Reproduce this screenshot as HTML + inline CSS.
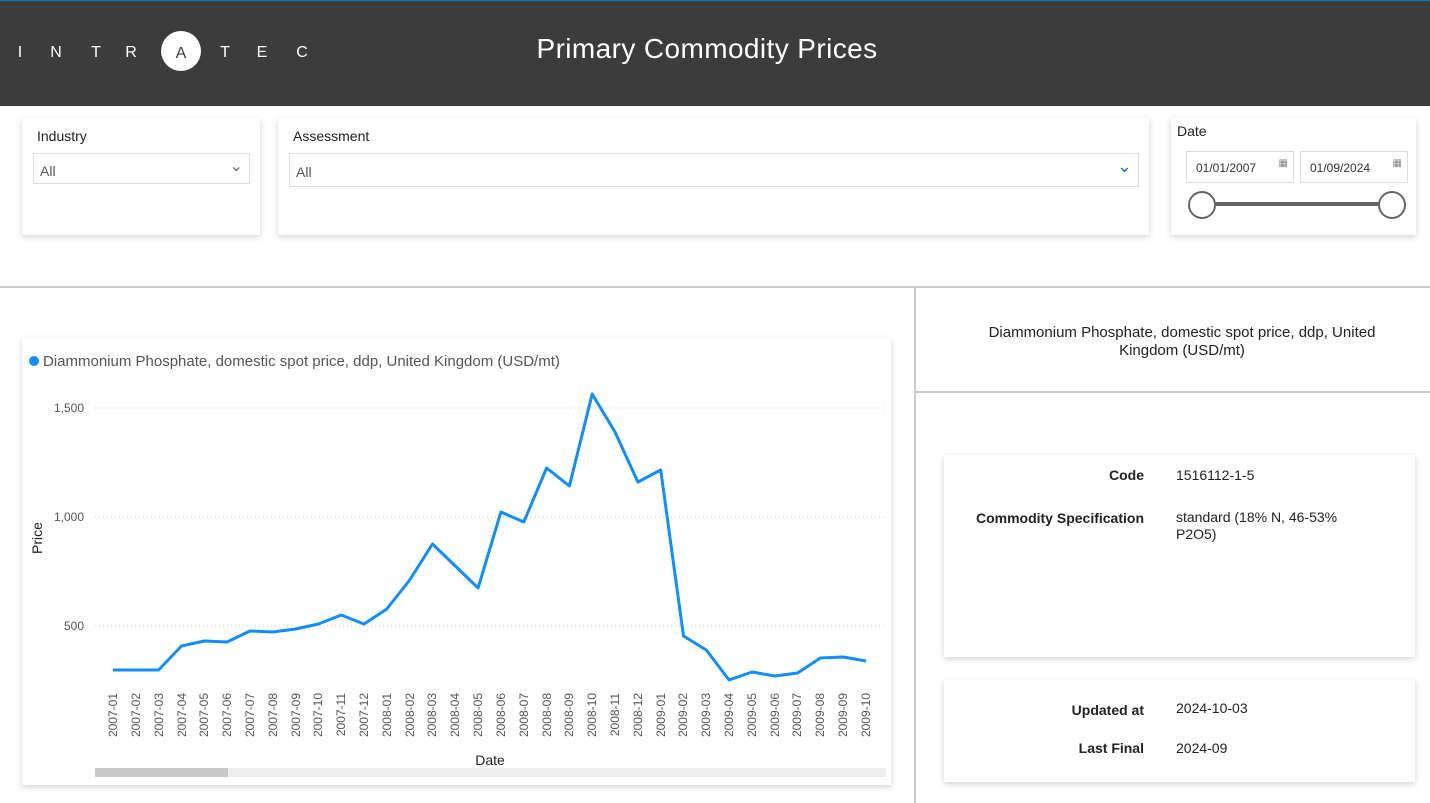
<!DOCTYPE html>
<html><head><meta charset="utf-8"><style>
body{margin:0;width:1430px;height:803px;overflow:hidden;background:#fff;font-family:"Liberation Sans","DejaVu Sans",sans-serif;position:relative}
.a{position:absolute}
.card{position:absolute;background:#fff;box-shadow:0 2px 6px rgba(0,0,0,0.18)}
.lbl{font-size:14px;color:#222}
.box{position:absolute;border:1px solid #ddd;background:#fff;font-size:14px;color:#555}
</style></head><body>
<div class="a" style="left:0;top:0;width:1430px;height:105px;background:#3c3c3c;border-top:1px solid #1a6fc4"></div>
<div class="a" style="left:0;top:0;width:1430px;height:105px;">
<svg width="1430" height="105">
<g fill="#fff" font-family="Liberation Sans, sans-serif" font-size="16" text-anchor="middle">
<text x="20" y="57">I</text><text x="56" y="57">N</text><text x="96" y="57">T</text><text x="131" y="57">R</text>
<circle cx="181" cy="51" r="20" fill="#fff"/><text x="181" y="58" fill="#3c3c3c">A</text>
<text x="225" y="57">T</text><text x="262" y="57">E</text><text x="302" y="57">C</text>
</g>
<text x="707" y="58" fill="#fff" font-size="28" letter-spacing="0.4" text-anchor="middle" font-family="Liberation Sans, sans-serif">Primary Commodity Prices</text>
</svg></div>

<div class="card" style="left:22px;top:118px;width:238px;height:117px"></div>
<div class="a lbl" style="left:37px;top:128px">Industry</div>
<div class="box" style="left:33px;top:153px;width:215px;height:29px"><span style="position:absolute;left:6px;top:9px">All</span><span style="position:absolute;right:6px;top:2px;color:#666;font-size:16px">&#8964;</span></div>
<div class="card" style="left:278px;top:118px;width:871px;height:117px"></div>
<div class="a lbl" style="left:293px;top:128px">Assessment</div>
<div class="box" style="left:289px;top:153px;width:848px;height:32px"><span style="position:absolute;left:6px;top:10px">All</span><span style="position:absolute;right:6px;top:2px;color:#1a6fc4;font-size:18px">&#8964;</span></div>
<div class="card" style="left:1171px;top:118px;width:245px;height:117px"></div>
<div class="a lbl" style="left:1177px;top:123px">Date</div>
<div class="box" style="left:1186px;top:151px;width:106px;height:30px;font-size:12px;color:#333"><span style="position:absolute;left:9px;top:9px">01/01/2007</span><span style="position:absolute;right:5px;top:6px;font-size:10px;color:#888">▦</span></div>
<div class="box" style="left:1300px;top:151px;width:106px;height:30px;font-size:12px;color:#333"><span style="position:absolute;left:9px;top:9px">01/09/2024</span><span style="position:absolute;right:5px;top:6px;font-size:10px;color:#888">▦</span></div>
<div class="a" style="left:1200px;top:202px;width:195px;height:4px;background:#666"></div>
<div class="a" style="left:1188px;top:191px;width:24px;height:24px;border:2px solid #666;border-radius:50%;background:#fff"></div>
<div class="a" style="left:1378px;top:191px;width:24px;height:24px;border:2px solid #666;border-radius:50%;background:#fff"></div>

<div class="a" style="left:0;top:286px;width:1430px;height:2px;background:#ccc"></div>
<div class="a" style="left:914px;top:286px;width:2px;height:517px;background:#ccc"></div>
<div class="a" style="left:916px;top:391px;width:514px;height:2px;background:#ccc"></div>
<div class="a" style="left:916px;top:324px;width:532px;text-align:center;font-size:15px;color:#222;line-height:18px">Diammonium Phosphate, domestic spot price, ddp, United<br>Kingdom (USD/mt)</div>

<div class="card" style="left:944px;top:455px;width:471px;height:202px"></div>
<div class="a" style="left:944px;top:467px;width:200px;text-align:right;font-size:14px;font-weight:bold;color:#222">Code</div>
<div class="a" style="left:1176px;top:467px;font-size:14px;color:#222">1516112-1-5</div>
<div class="a" style="left:944px;top:510px;width:200px;text-align:right;font-size:14px;font-weight:bold;color:#222">Commodity Specification</div>
<div class="a" style="left:1176px;top:509px;width:200px;font-size:14px;color:#222;line-height:17px">standard (18% N, 46-53% P2O5)</div>
<div class="card" style="left:944px;top:680px;width:471px;height:102px"></div>
<div class="a" style="left:944px;top:702px;width:200px;text-align:right;font-size:14px;font-weight:bold;color:#222">Updated at</div>
<div class="a" style="left:1176px;top:700px;font-size:14px;color:#222">2024-10-03</div>
<div class="a" style="left:944px;top:740px;width:200px;text-align:right;font-size:14px;font-weight:bold;color:#222">Last Final</div>
<div class="a" style="left:1176px;top:740px;font-size:14px;color:#222">2024-09</div>

<div class="card" style="left:22px;top:338px;width:869px;height:447px"></div>
<svg class="a" style="left:0;top:0" width="1430" height="803" font-family="Liberation Sans, sans-serif">
<circle cx="34" cy="361" r="5" fill="#118dff"/>
<text x="43" y="366" font-size="15" fill="#555">Diammonium Phosphate, domestic spot price, ddp, United Kingdom (USD/mt)</text>
<g stroke="#ccc" stroke-dasharray="1,3"><line x1="95" x2="886" y1="408" y2="408"/><line x1="95" x2="886" y1="517" y2="517"/><line x1="95" x2="886" y1="626" y2="626"/></g>
<g font-size="12" fill="#555" text-anchor="end"><text x="84" y="412">1,500</text><text x="84" y="521">1,000</text><text x="84" y="630">500</text></g>
<text transform="translate(42,538) rotate(-90)" font-size="14" fill="#222" text-anchor="middle">Price</text>
<text x="490" y="765" font-size="14" fill="#222" text-anchor="middle">Date</text>
<polyline fill="none" stroke="#118dff" stroke-width="3" stroke-linejoin="round" points="113,670 135.8,670 158.6,670 181.5,646 204.3,641 227.1,642 249.9,631 272.7,632 295.6,629 318.4,624 341.2,615 364,624 386.8,609 409.7,580 432.5,544 455.3,566 478.1,588 500.9,512 523.8,522 546.6,468 569.4,486 592.2,394 615,432 637.9,482 660.7,470 683.5,636 706.3,650 729.1,680 752,672 774.8,676 797.6,673 820.4,658 843.2,657 866,661"/>
<g font-size="12" fill="#555" text-anchor="end">
<text transform="translate(117,693) rotate(-90)">2007-01</text><text transform="translate(140,693) rotate(-90)">2007-02</text><text transform="translate(163,693) rotate(-90)">2007-03</text><text transform="translate(186,693) rotate(-90)">2007-04</text><text transform="translate(208,693) rotate(-90)">2007-05</text><text transform="translate(231,693) rotate(-90)">2007-06</text><text transform="translate(254,693) rotate(-90)">2007-07</text><text transform="translate(277,693) rotate(-90)">2007-08</text><text transform="translate(300,693) rotate(-90)">2007-09</text><text transform="translate(322,693) rotate(-90)">2007-10</text><text transform="translate(345,693) rotate(-90)">2007-11</text><text transform="translate(368,693) rotate(-90)">2007-12</text><text transform="translate(391,693) rotate(-90)">2008-01</text><text transform="translate(414,693) rotate(-90)">2008-02</text><text transform="translate(436,693) rotate(-90)">2008-03</text><text transform="translate(459,693) rotate(-90)">2008-04</text><text transform="translate(482,693) rotate(-90)">2008-05</text><text transform="translate(505,693) rotate(-90)">2008-06</text><text transform="translate(528,693) rotate(-90)">2008-07</text><text transform="translate(551,693) rotate(-90)">2008-08</text><text transform="translate(573,693) rotate(-90)">2008-09</text><text transform="translate(596,693) rotate(-90)">2008-10</text><text transform="translate(619,693) rotate(-90)">2008-11</text><text transform="translate(642,693) rotate(-90)">2008-12</text><text transform="translate(665,693) rotate(-90)">2009-01</text><text transform="translate(687,693) rotate(-90)">2009-02</text><text transform="translate(710,693) rotate(-90)">2009-03</text><text transform="translate(733,693) rotate(-90)">2009-04</text><text transform="translate(756,693) rotate(-90)">2009-05</text><text transform="translate(779,693) rotate(-90)">2009-06</text><text transform="translate(801,693) rotate(-90)">2009-07</text><text transform="translate(824,693) rotate(-90)">2009-08</text><text transform="translate(847,693) rotate(-90)">2009-09</text><text transform="translate(870,693) rotate(-90)">2009-10</text>
</g>
<rect x="95" y="768" width="791" height="9" fill="#eee"/>
<rect x="95" y="768" width="133" height="9" fill="#c8c8c8"/>
</svg>
</body></html>
